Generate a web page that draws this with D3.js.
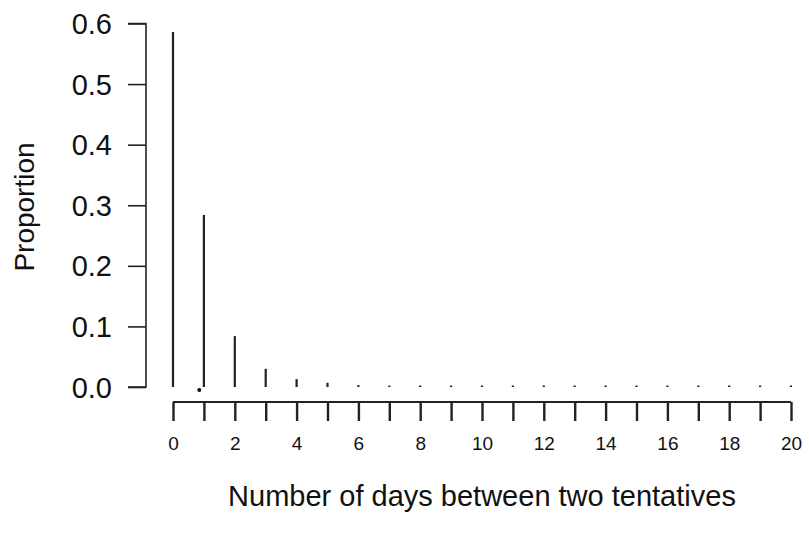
<!DOCTYPE html>
<html>

<head>
    <meta charset="utf-8">
    <script src="https://d3js.org/d3.v7.min.js"></script>
    <style>
        body { margin: 0; background: #fff; }
        text { font-family: "Liberation Sans", Arial, sans-serif; fill: #111; }
    </style>
</head>
<body>
    <script>
        // values
        let days = d3.range(0, 21);
        let proportions = [0.586, 0.284, 0.084, 0.030, 0.013, 0.007, 0.003, 0.002, 0.002, 0.002,
                           0.002, 0.002, 0.002, 0.002, 0.002, 0.002, 0.002, 0.002, 0.002, 0.002, 0.002];
        let strayPoint = [{ x: 0.85, y: -0.005 }];
        let yTicks = [0, 0.1, 0.2, 0.3, 0.4, 0.5, 0.6];
        let xTicks = d3.range(0, 21);
        let xLabels = d3.range(0, 21, 2);

        let width = 809,
            height = 547;

        let svg = d3.select("body").append("svg")
            .attr("width", width)
            .attr("height", height);

        let x = d3.scaleLinear().domain([0, 20]).range([173, 791]);
        let y = d3.scaleLinear().domain([0, 0.6]).range([387, 23.5]);

        let data = days.map((d, i) => ({ day: d, p: proportions[i] }));

        // spikes
        svg.append("g")
            .selectAll("line")
            .data(data)
            .join("line")
                .attr("x1", d => x(d.day))
                .attr("x2", d => x(d.day))
                .attr("y1", y(0))
                .attr("y2", d => Math.min(y(d.p), y(0) - 1.5))
                .attr("stroke", "#222")
                .attr("stroke-width", 2.2);

        svg.append("g")
            .selectAll("circle")
            .data(strayPoint)
            .join("circle")
                .attr("cx", d => x(d.x))
                .attr("cy", d => y(d.y))
                .attr("r", 2)
                .attr("fill", "#111");

        // y axis
        let yAxis = svg.append("g")
            .attr("transform", "translate(146,0)")
            .call(d3.axisLeft(y).tickValues(yTicks).tickFormat(d3.format(".1f")).tickSize(18).tickPadding(16));
        yAxis.select(".domain").attr("stroke", "#222").attr("stroke-width", 1.6)
            .attr("d", "M-18," + y(0.6) + "H0V" + y(0) + "H-18");
        yAxis.selectAll(".tick line").attr("stroke", "#222").attr("stroke-width", 1.6);
        yAxis.selectAll(".tick text").style("font-size", "29px").attr("dy", "0.35em");

        // x axis
        let xAxis = svg.append("g")
            .attr("transform", "translate(0,402)")
            .call(d3.axisBottom(x).tickValues(xTicks).tickFormat(d => xLabels.includes(d) ? d : "").tickSize(19).tickPadding(16));
        xAxis.select(".domain").attr("stroke", "#222").attr("stroke-width", 2.2)
            .attr("d", "M" + x(0) + ",0H" + x(20));
        xAxis.selectAll(".tick line").attr("stroke", "#222").attr("stroke-width", 2.4);
        xAxis.selectAll(".tick text").style("font-size", "19px");

        svg.append("text")
            .attr("x", (x(0) + x(20)) / 2)
            .attr("y", 506)
            .attr("text-anchor", "middle")
            .style("font-size", "29px")
            .text("Number of days between two tentatives");

        svg.append("text")
            .attr("transform", "translate(34,207) rotate(-90)")
            .attr("text-anchor", "middle")
            .style("font-size", "28px")
            .text("Proportion");
    </script>
</body>
</html>
